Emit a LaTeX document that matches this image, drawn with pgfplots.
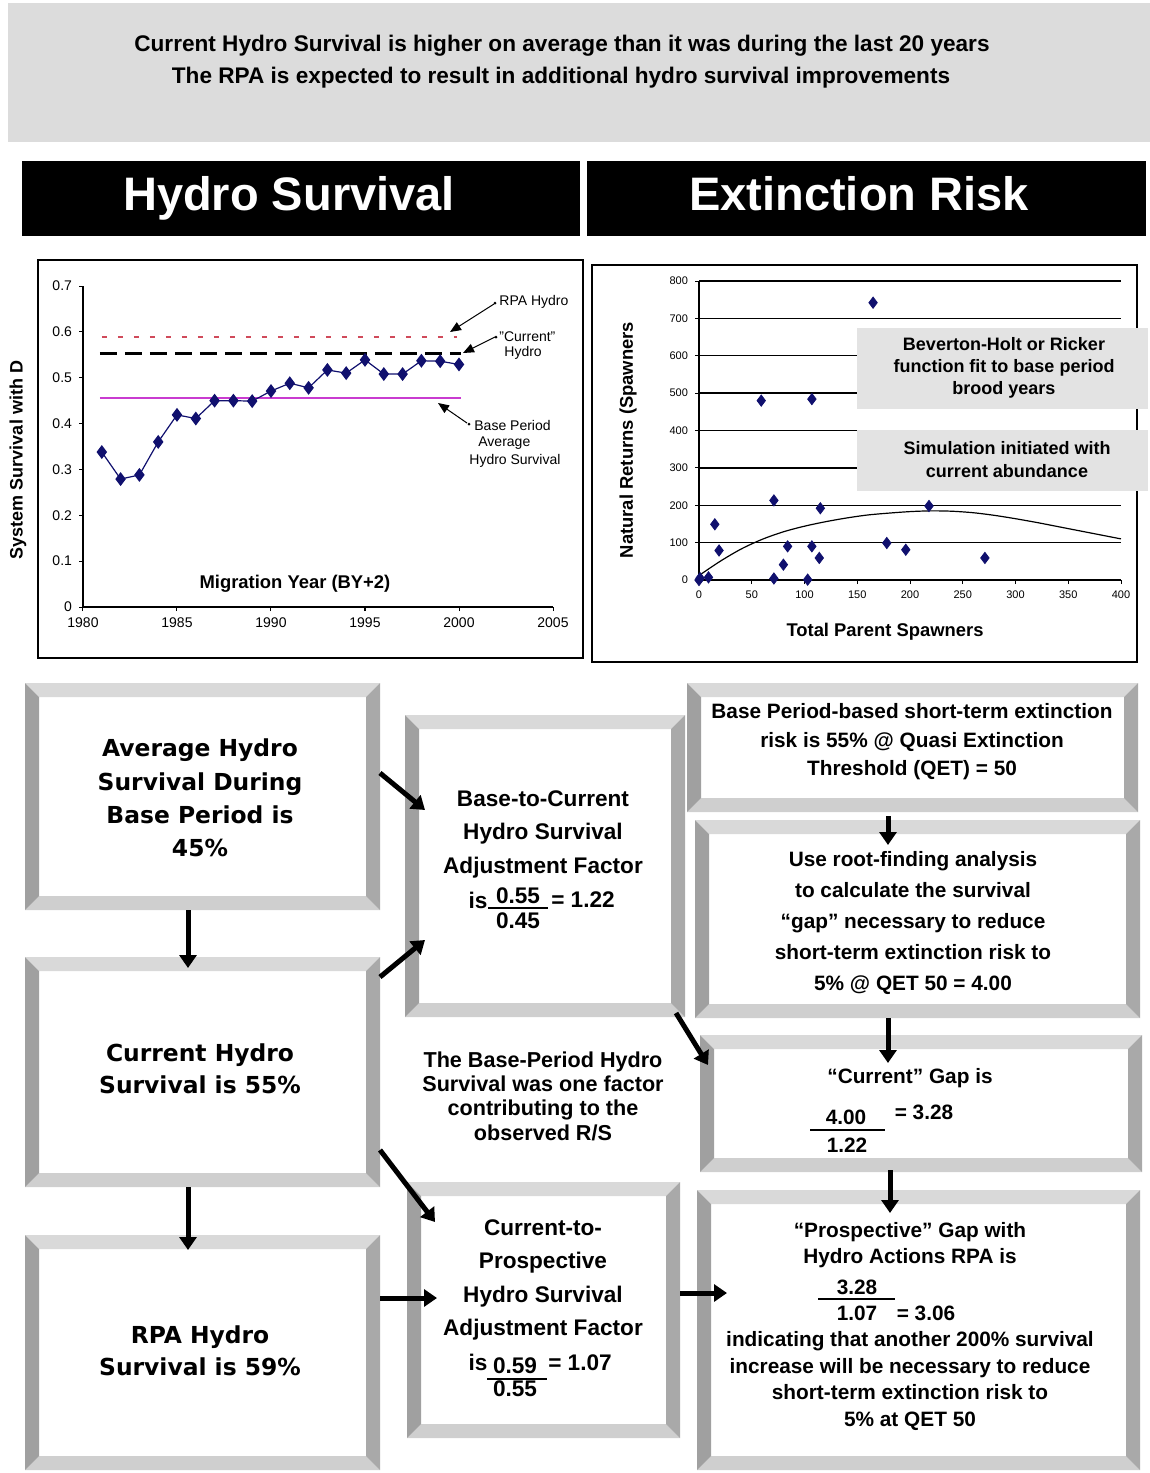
\documentclass[border=0pt]{standalone}
\usepackage{fontspec}
\setmainfont{Liberation Sans}
\newfontfamily\dejavu{DejaVu Sans}
\usepackage{pgfplots}
\pgfplotsset{compat=1.18}
\usetikzlibrary{arrows.meta}
\definecolor{bannergray}{HTML}{DCDCDC}
\definecolor{boxgray}{HTML}{E3E3E3}
\definecolor{bevtop}{HTML}{D9D9D9}
\definecolor{bevbot}{HTML}{CFCFCF}
\definecolor{bevleft}{HTML}{A0A0A0}
\definecolor{bevright}{HTML}{A9A9A9}
\definecolor{navy}{HTML}{10106E}
\definecolor{rpared}{HTML}{D04A5A}
\definecolor{basemag}{HTML}{C93BD0}
\newcommand{\fs}[2]{\fontsize{#1}{#2}\selectfont}
\newcommand{\bevel}[4]{%
 \fill[white] (#1,#2) rectangle (#3,#4);
 \fill[bevtop] (#1,#2) -- (#3,#2) -- ({#3-14},{#2+14}) -- ({#1+14},{#2+14}) -- cycle;
 \fill[bevbot] (#1,#4) -- (#3,#4) -- ({#3-14},{#4-14}) -- ({#1+14},{#4-14}) -- cycle;
 \fill[bevleft] (#1,#2) -- ({#1+14},{#2+14}) -- ({#1+14},{#4-14}) -- (#1,#4) -- cycle;
 \fill[bevright] (#3,#2) -- ({#3-14},{#2+14}) -- ({#3-14},{#4-14}) -- (#3,#4) -- cycle;
}
\tikzset{
 flow/.style={line width=2.5pt, -{Triangle[width=8.5pt,length=6.5pt]}},
 ann/.style={line width=0.5pt, -{Triangle[width=4.5pt,length=5.5pt]}},
}
\begin{document}
\begin{tikzpicture}
\path[use as bounding box] (0,0) rectangle (575pt,-736.5pt);
\begin{scope}[x=0.5pt,y=-0.5pt]
\fill[bannergray] (8,3) rectangle (1150,142);
\node[font=\bfseries\fs{11.3}{13}] at (562,46) {Current Hydro Survival is higher on average than it was during the last 20 years};
\node[font=\bfseries\fs{11.3}{13}] at (561,78) {The RPA is expected to result in additional hydro survival improvements};
\fill[black] (22,161) rectangle (580,236);
\fill[black] (587,161) rectangle (1146,236);
\node[white, font=\bfseries\fs{23.5}{26}] at (289,198) {Hydro Survival};
\node[white, font=\bfseries\fs{23.5}{26}] at (859,194) {Extinction Risk};
\draw[line width=0.75pt] (38,260) rectangle (583,658);
\draw[line width=0.75pt] (592,265) rectangle (1137,662);
\end{scope}

% ---------- Hydro survival chart ----------
\begin{axis}[
 at={(41.5pt,-303.5pt)}, anchor=south west, scale only axis,
 width=235pt, height=160.5pt,
 xmin=1980, xmax=2005, ymin=0, ymax=0.7,
 axis lines*=left, axis line style={black, line width=0.6pt},
 xtick={1980,1985,1990,1995,2000,2005},
 ytick={0,0.1,0.2,0.3,0.4,0.5,0.6,0.7},
 tick align=outside, major tick length=2pt, tick style={black, line width=0.5pt},
 ticklabel style={font=\fs{7}{8}},
 /pgf/number format/assume math mode=true,
 xticklabel style={/pgf/number format/1000 sep={}},
 yticklabel style={/pgf/number format/.cd, fixed, precision=1},
 clip=false,
]
\addplot[rpared, line width=1pt, dash pattern=on 2.5pt off 5.5pt] coordinates {(1981.0,0.589) (1999.9,0.589)};
\addplot[black, line width=1.5pt, dash pattern=on 8.5pt off 4pt] coordinates {(1980.9,0.552) (2000.1,0.552)};
\addplot[basemag, line width=0.9pt] coordinates {(1980.9,0.455) (2000.1,0.455)};
\addplot[navy, line width=0.6pt, mark=diamond*, mark size=3pt] coordinates {
(1981,0.338) (1982,0.279) (1983,0.288) (1984,0.360) (1985,0.419) (1986,0.411)
(1987,0.450) (1988,0.450) (1989,0.449) (1990,0.471) (1991,0.488) (1992,0.478)
(1993,0.517) (1994,0.510) (1995,0.539) (1996,0.508) (1997,0.508) (1998,0.537)
(1999,0.536) (2000,0.529)};
\end{axis}

% ---------- Extinction risk chart ----------
\begin{axis}[
 at={(349.5pt,-290pt)}, anchor=south west, scale only axis,
 width=211pt, height=149.5pt,
 xmin=0, xmax=400, ymin=0, ymax=800,
 axis lines*=left, axis line style={black, line width=0.7pt},
 xtick={0,50,100,150,200,250,300,350,400},
 ytick={0,100,200,300,400,500,600,700,800},
 ymajorgrids, grid style={black, line width=0.7pt},
 tick align=outside, major tick length=2pt, tick style={black, line width=0.5pt},
 ticklabel style={font=\fs{5.5}{6}},
 /pgf/number format/assume math mode=true,
 clip=false,
]
\addplot[black, line width=0.6pt, smooth] coordinates {
(0,12) (20,50) (40,83) (60,109) (80,129) (100,144) (120,156) (140,166) (160,174)
(180,179) (200,183) (220,185) (240,184) (260,180) (280,173) (300,164) (320,154)
(340,143) (360,132) (380,121) (400,110)};
\addplot[only marks, navy, mark=diamond*, mark size=2.8pt] coordinates {
(0,0) (1,5) (9,7) (15,149) (19,79) (59,480) (71,213) (71,4) (80,41) (84,90)
(103,1) (107,484) (107,90) (114,59) (115,192) (165,742) (178,99) (196,81)
(218,198) (271,59)};
\end{axis}

\begin{scope}[x=0.5pt,y=-0.5pt]
% chart labels
\node[rotate=90, font=\bfseries\fs{9}{10}] at (18,460) {System Survival with D};
\node[font=\bfseries\fs{9.2}{10}] at (295,584) {Migration Year (BY+2)};
\node[rotate=90, font=\bfseries\fs{9.2}{10}] at (628,440) {Natural Returns (Spawners};
\node[font=\bfseries\fs{9.2}{10}] at (885,632) {Total Parent Spawners};
% annotations
\draw[ann] (494,304) -- (450,332);
\draw[ann] (495,337) -- (463,353);
\draw[ann] (467,423) -- (438,403);
\fill (495,303) circle (1.5);
\fill (496,337) circle (1.5);
\fill (469,424) circle (1.5);
\node[anchor=west, font=\fs{7}{8}, inner sep=0] at (499,302) {RPA Hydro};
\node[anchor=west, font=\fs{7}{8}, inner sep=0] at (499,337) {"Current"};
\node[anchor=west, font=\fs{7}{8}, inner sep=0] at (504,353) {Hydro};
\node[anchor=west, font=\fs{7}{8}, inner sep=0] at (474,425) {Base Period};
\node[anchor=west, font=\fs{7}{8}, inner sep=0] at (478,443) {Average};
\node[anchor=west, font=\fs{7}{8}, inner sep=0] at (469,461) {Hydro Survival};
% gray text boxes in the risk chart
\fill[boxgray] (857,328) rectangle (1148,409);
\fill[boxgray] (857,430) rectangle (1148,491);
\node[align=center, font=\bfseries\fs{9}{11}] at (1004,368) {Beverton-Holt or Ricker\\function fit to base period\\brood years};
\node[align=center, font=\bfseries\fs{9}{11.5}] at (1007,460) {Simulation initiated with\\current abundance};

% ---------- flowchart ----------
\bevel{25}{683}{380}{910}
\bevel{25}{957}{380}{1187}
\bevel{25}{1235}{380}{1470}
\bevel{405}{715}{685}{1017}
\bevel{407}{1182}{680}{1438}
\bevel{687}{683}{1138}{812}
\bevel{695}{820}{1140}{1018}
\bevel{700}{1035}{1142}{1172}
\bevel{697}{1190}{1140}{1470}

\draw[flow] (380,773) -- (425,810);
\draw[flow] (380,977) -- (425,940);
\draw[flow] (188,910) -- (188,968);
\draw[flow] (188,1187) -- (188,1250);
\draw[flow] (380,1150) -- (435,1222);
\draw[flow] (380,1298) -- (437,1298);
\draw[flow] (676,1013) -- (708,1065);
\draw[flow] (680,1293) -- (727,1293);
\draw[flow] (888,816) -- (888,845);
\draw[flow] (888,1018) -- (888,1063);
\draw[flow] (890,1170) -- (890,1213);

\node[align=center, font=\dejavu\bfseries\fs{11.7}{16.7}] at (200,798) {Average Hydro\\Survival During\\Base Period is\\45\%};
\node[align=center, font=\dejavu\bfseries\fs{11.7}{16}] at (200,1069) {Current Hydro\\Survival is 55\%};
\node[align=center, font=\dejavu\bfseries\fs{11.7}{16}] at (200,1351) {RPA Hydro\\Survival is 59\%};

\node[align=center, font=\bfseries\fs{11.3}{16.75}] at (543,834) {Base-to-Current\\Hydro Survival\\Adjustment Factor};
\begin{scope}[every node/.style={font=\bfseries\fs{11.3}{13}}]
\node at (478,900) {is};
\node at (518,896) {0.55};
\node at (518,921) {0.45};
\node at (583,900) {= 1.22};
\end{scope}
\draw[line width=0.6pt] (488,908) -- (548,908);

\node[align=center, font=\bfseries\fs{11.3}{16.6}] at (543,1280) {Current-to-\\Prospective\\Hydro Survival\\Adjustment Factor};
\begin{scope}[every node/.style={font=\bfseries\fs{11.3}{13}}]
\node at (478,1362) {is};
\node at (515,1366) {0.59};
\node at (515,1389) {0.55};
\node at (580,1363) {= 1.07};
\end{scope}
\draw[line width=0.6pt] (487,1379) -- (547,1379);

\node[align=center, font=\bfseries\fs{10.8}{12.2}] at (543,1096) {The Base-Period Hydro\\Survival was one factor\\contributing to the\\observed R/S};

\node[align=center, font=\bfseries\fs{10.4}{14.3}] at (912,742) {Base Period-based short-term extinction\\risk is 55\% @ Quasi Extinction\\Threshold (QET) = 50};
\node[align=center, font=\bfseries\fs{10.4}{15.4}] at (913,923) {Use root-finding analysis\\to calculate the survival\\“gap” necessary to reduce\\short-term extinction risk to\\5\% @ QET 50 = 4.00};

\begin{scope}[every node/.style={font=\bfseries\fs{10.4}{13}}]
\node at (910,1078) {“Current” Gap is};
\node at (846,1117) {4.00};
\node at (847,1145) {1.22};
\node at (924,1112) {= 3.28};
\node[align=center] at (910,1245) {“Prospective” Gap with\\Hydro Actions RPA is};
\node at (857,1287) {3.28};
\node at (857,1313) {1.07};
\node at (926,1313) {= 3.06};
\end{scope}
\draw[line width=0.6pt] (810,1130) -- (885,1130);
\draw[line width=0.6pt] (818,1299) -- (895,1299);
\node[align=center, font=\bfseries\fs{10.4}{13.3}] at (910,1381) {indicating that another 200\% survival\\increase will be necessary to reduce\\short-term extinction risk to\\5\% at QET 50};
\end{scope}
\end{tikzpicture}
\end{document}
